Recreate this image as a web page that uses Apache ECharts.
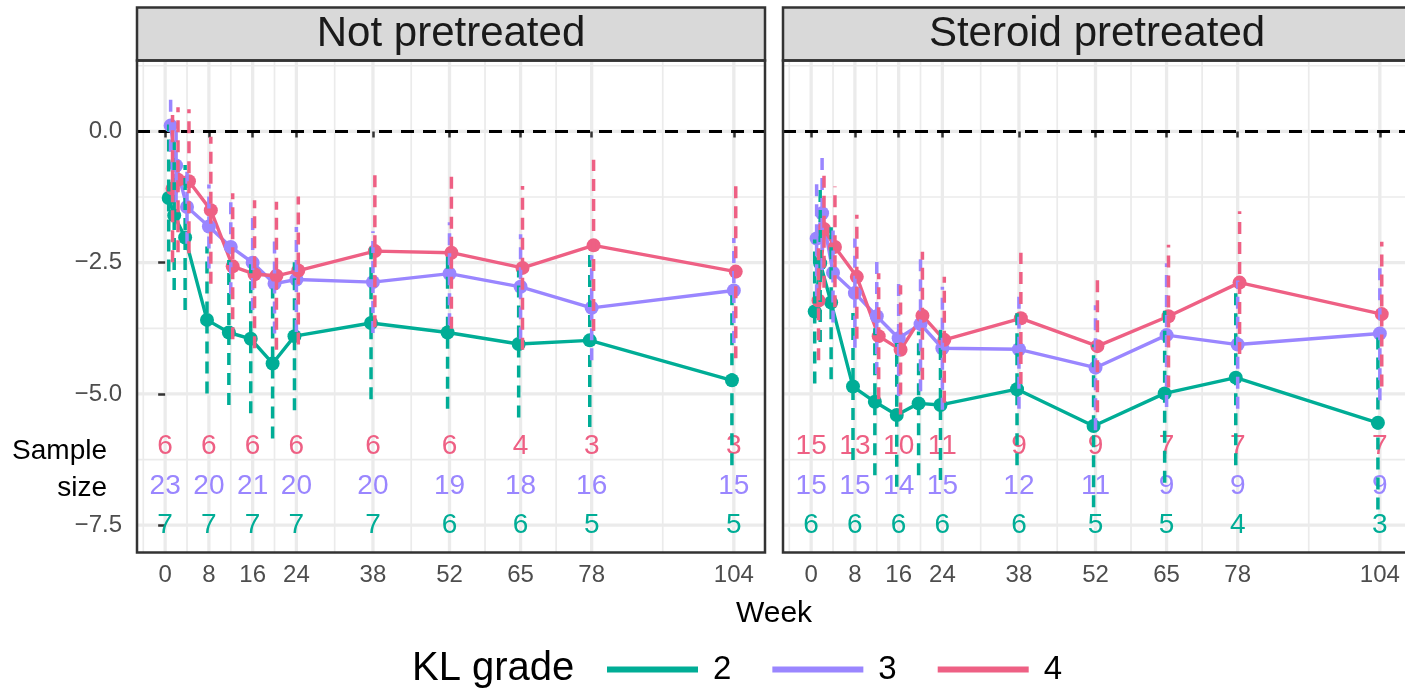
<!DOCTYPE html>
<html><head><meta charset="utf-8">
<script src="https://cdn.jsdelivr.net/npm/echarts@6/dist/echarts.min.js"></script>
<style>html,body{margin:0;padding:0;background:#fff}#c{width:1405px;height:691px}</style>
</head><body><div id="c"></div>
<script>
const FONT = '"Liberation Sans", Arial, Helvetica, sans-serif';

// ---------------- data ----------------
const panelNames = ['Not pretreated', 'Steroid pretreated'];
const groupNames = ['2', '3', '4'];
const weeks = [1, 2, 4, 8, 12, 16, 20, 24, 38, 52, 65, 78, 104];
const weekTicks = [0, 8, 16, 24, 38, 52, 65, 78, 104];
const weekMinor = [-4, 4, 12, 20, 31, 45, 58.5, 71.5, 91];
const yTicks = [-7.5, -5, -2.5, 0];
const yMinor = [-6.25, -3.75, -1.25, 1.25];

// Not pretreated
const np2Mean = [-1.27, -1.60, -2.02, -3.59, -3.83, -3.95, -4.42, -3.90, -3.65, -3.83, -4.05, -3.98, -4.74];
const np2Lo   = [-2.67, -3.02, -3.40, -4.99, -5.21, -5.37, -5.85, -5.31, -5.10, -5.28, -5.45, -5.63, -6.36];
const np2Hi   = [ 0.13, -0.18, -0.64, -2.19, -2.45, -2.53, -2.99, -2.49, -2.20, -2.38, -2.65, -2.33, -3.12];
const np3Mean = [ 0.11, -0.65, -1.44, -1.81, -2.20, -2.50, -2.90, -2.82, -2.87, -2.71, -2.96, -3.36, -3.03];
const np3Lo   = [-0.39, -1.35, -2.14, -2.61, -3.10, -3.40, -3.85, -3.82, -3.84, -3.69, -3.96, -4.36, -4.03];
const np3Hi   = [ 0.61,  0.05, -0.74, -1.01, -1.30, -1.60, -1.95, -1.82, -1.90, -1.73, -1.96, -2.36, -2.03];
const np4Mean = [-1.09, -0.92, -0.95, -1.50, -2.57, -2.72, -2.75, -2.65, -2.28, -2.31, -2.60, -2.17, -2.67];
const np4Lo   = [-2.49, -2.30, -2.32, -2.90, -3.96, -4.13, -4.16, -4.06, -3.73, -3.76, -4.16, -3.80, -4.32];
const np4Hi   = [ 0.31,  0.46,  0.42, -0.10, -1.18, -1.31, -1.34, -1.24, -0.83, -0.86, -1.04, -0.54, -1.02];

// Steroid pretreated
const sp2Mean = [-3.43, -2.51, -3.26, -4.86, -5.15, -5.40, -5.18, -5.21, -4.91, -5.61, -4.99, -4.69, -5.55];
const sp2Lo   = [-4.80, -4.01, -4.72, -6.26, -6.55, -6.77, -6.55, -6.64, -6.36, -7.16, -6.69, -6.36, -7.20];
const sp2Hi   = [-2.06, -1.01, -1.80, -3.46, -3.75, -4.03, -3.81, -3.78, -3.46, -4.06, -3.29, -3.02, -3.90];
const sp3Mean = [-2.04, -1.56, -2.69, -3.08, -3.52, -3.94, -3.67, -4.13, -4.15, -4.50, -3.88, -4.06, -3.85];
const sp3Lo   = [-3.14, -2.64, -3.64, -4.12, -4.62, -5.04, -4.95, -5.30, -5.28, -5.69, -5.25, -5.28, -5.12];
const sp3Hi   = [-0.94, -0.48, -1.74, -2.04, -2.42, -2.84, -2.39, -2.96, -3.02, -3.31, -2.51, -2.84, -2.58];
const sp4Mean = [-3.22, -1.86, -2.20, -2.77, -3.90, -4.16, -3.51, -3.97, -3.56, -4.09, -3.52, -2.88, -3.48];
const sp4Lo   = [-4.36, -2.98, -3.35, -3.95, -5.10, -5.39, -4.73, -5.17, -4.81, -5.35, -4.88, -4.24, -4.86];
const sp4Hi   = [-2.08, -0.74, -1.05, -1.59, -2.70, -2.93, -2.29, -2.77, -2.31, -2.83, -2.16, -1.52, -2.10];

// sample sizes at weekTicks
const npN2 = [7, 7, 7, 7, 7, 6, 6, 5, 5];
const npN3 = [23, 20, 21, 20, 20, 19, 18, 16, 15];
const npN4 = [6, 6, 6, 6, 6, 6, 4, 3, 3];
const spN2 = [6, 6, 6, 6, 6, 5, 5, 4, 3];
const spN3 = [15, 15, 14, 15, 12, 11, 9, 9, 9];
const spN4 = [15, 13, 10, 11, 9, 9, 7, 7, 7];

// ---------------- styling / layout ----------------
const COLORS = {'2': '#00AD96', '3': '#9A86FF', '4': '#EE6084'};
const DODGE = {'2': -0.35, '3': 0, '4': 0.35};
const LABEL_ROW = {'2': -7.5, '3': -6.75, '4': -6.0};
const X_MIN = -5.15, X_MAX = 109.7, Y_MIN = -8.02, Y_MAX = 1.35;
const PANEL = [{left: 137}, {left: 783}];
const P_TOP = 60.5, P_H = 492, P_W = 628;

const panelData = [
  {'2': [np2Mean, np2Lo, np2Hi, npN2], '3': [np3Mean, np3Lo, np3Hi, npN3], '4': [np4Mean, np4Lo, np4Hi, npN4]},
  {'2': [sp2Mean, sp2Lo, sp2Hi, spN2], '3': [sp3Mean, sp3Lo, sp3Hi, spN3], '4': [sp4Mean, sp4Lo, sp4Hi, spN4]}
];

const gridData = [];
weekTicks.forEach(v => gridData.push([v, 0, 1]));
weekMinor.forEach(v => gridData.push([v, 0, 0]));
yTicks.forEach(v => gridData.push([v, 1, 1]));
yMinor.forEach(v => gridData.push([v, 1, 0]));

function gridRender(params, api) {
  const cs = params.coordSys;
  const v = api.value(0), orient = api.value(1), major = api.value(2);
  let shape;
  if (orient === 0) {
    const p = api.coord([v, 0]);
    shape = {x1: p[0], y1: cs.y, x2: p[0], y2: cs.y + cs.height};
  } else {
    const p = api.coord([0, v]);
    shape = {x1: cs.x, y1: p[1], x2: cs.x + cs.width, y2: p[1]};
  }
  return {type: 'line', shape, silent: true,
    style: {stroke: '#EBEBEB', lineWidth: major ? 3.3 : 1.7}};
}
function refRender(params, api) {
  const cs = params.coordSys;
  const p = api.coord([0, api.value(0)]);
  return {type: 'line', silent: true, shape: {x1: cs.x, y1: p[1], x2: cs.x + cs.width, y2: p[1]},
    style: {stroke: '#000', lineWidth: 3, lineDash: [13, 9]}};
}
function ebRender(params, api) {
  const x = api.value(0);
  const a = api.coord([x, api.value(1)]), b = api.coord([x, api.value(2)]);
  return {type: 'line', shape: {x1: a[0], y1: a[1], x2: b[0], y2: b[1]},
    style: {stroke: api.visual('color'), lineWidth: 3.5, lineDash: [12, 8]}};
}
function labRender(params, api) {
  const p = api.coord([api.value(0), api.value(1)]);
  return {type: 'text', x: p[0], y: p[1], silent: true,
    style: {text: String(api.value(2)), fill: api.visual('color'), font: '28px ' + FONT,
      align: 'center', verticalAlign: 'middle'}};
}

const grids = [], xAxes = [], yAxes = [], series = [];
PANEL.forEach((pp, k) => {
  grids.push({left: pp.left, top: P_TOP, width: P_W, height: P_H, show: false,
    containLabel: false, outerBoundsMode: 'none'});
  xAxes.push({gridIndex: k, type: 'value', min: X_MIN, max: X_MAX,
    splitLine: {show: false}, axisLine: {show: false},
    axisTick: {show: true, customValues: weekTicks, length: 6, lineStyle: {color: '#333', width: 2.5}},
    axisLabel: {customValues: weekTicks, color: '#4D4D4D', fontSize: 24, fontFamily: FONT, margin: 11}});
  yAxes.push({gridIndex: k, type: 'value', min: Y_MIN, max: Y_MAX,
    splitLine: {show: false}, axisLine: {show: false},
    axisTick: {show: k === 0, customValues: yTicks, length: 7, lineStyle: {color: '#333', width: 2.5}},
    axisLabel: {show: k === 0, customValues: yTicks, color: '#4D4D4D', fontSize: 24, fontFamily: FONT, margin: 15,
      formatter: v => (v < 0 ? '\u2212' + Math.abs(v).toFixed(1) : v.toFixed(1))}});

  series.push({type: 'custom', xAxisIndex: k, yAxisIndex: k, z: 0, silent: true,
    renderItem: gridRender, data: gridData, encode: {x: 0, y: 1}});
  series.push({type: 'custom', xAxisIndex: k, yAxisIndex: k, z: 1, silent: true,
    renderItem: refRender, data: [[0]], encode: {y: 0}});

  groupNames.forEach(g => {
    const [mean, lo, hi, ns] = panelData[k][g];
    series.push({name: 'n' + g, type: 'custom', xAxisIndex: k, yAxisIndex: k, z: 2,
      itemStyle: {color: COLORS[g]}, renderItem: labRender,
      data: weekTicks.map((w, i) => [w, LABEL_ROW[g], ns[i]]), encode: {x: 0, y: 1}});
  });
  groupNames.forEach(g => {
    const [mean] = panelData[k][g];
    series.push({name: g, type: 'line', xAxisIndex: k, yAxisIndex: k, z: 3,
      data: weeks.map((w, i) => [w + DODGE[g], mean[i]]),
      symbol: 'circle', symbolSize: 14, showSymbol: true,
      itemStyle: {color: COLORS[g]}, lineStyle: {color: COLORS[g], width: 3.4}});
  });
  groupNames.forEach(g => {
    const [mean, lo, hi] = panelData[k][g];
    series.push({name: 'ci' + g, type: 'custom', xAxisIndex: k, yAxisIndex: k, z: 4,
      itemStyle: {color: COLORS[g]}, renderItem: ebRender,
      data: weeks.map((w, i) => [w + DODGE[g], lo[i], hi[i]]), encode: {x: 0, y: [1, 2]}});
  });
});

const graphics = [];
PANEL.forEach((pp, k) => {
  graphics.push({type: 'rect', z: 100, shape: {x: pp.left, y: 7.5, width: P_W, height: P_TOP - 7.5},
    style: {fill: '#D9D9D9', stroke: '#333', lineWidth: 2.5}});
  graphics.push({type: 'text', z: 101, x: pp.left + P_W / 2, y: 34,
    style: {text: panelNames[k], font: '42px ' + FONT, fill: '#1A1A1A', align: 'center', verticalAlign: 'middle'}});
  graphics.push({type: 'rect', z: 100, shape: {x: pp.left, y: P_TOP, width: P_W, height: P_H},
    style: {fill: 'none', stroke: '#333', lineWidth: 2.5}});
});
graphics.push({type: 'text', x: 107, y: 451, style: {text: 'Sample', font: '28px ' + FONT, fill: '#000', align: 'right', verticalAlign: 'middle'}});
graphics.push({type: 'text', x: 107, y: 488, style: {text: 'size', font: '28px ' + FONT, fill: '#000', align: 'right', verticalAlign: 'middle'}});
graphics.push({type: 'text', x: 774, y: 614, style: {text: 'Week', font: '30px ' + FONT, fill: '#000', align: 'center', verticalAlign: 'middle'}});
graphics.push({type: 'text', x: 412, y: 669, style: {text: 'KL grade', font: '40px ' + FONT, fill: '#000', align: 'left', verticalAlign: 'middle'}});

const chart = echarts.init(document.getElementById('c'), null, {renderer: 'canvas'});
chart.setOption({
  animation: false,
  backgroundColor: '#fff',
  grid: grids, xAxis: xAxes, yAxis: yAxes, series,
  graphic: graphics,
  legend: {data: groupNames, left: 607, top: 653, padding: 0, icon: 'rect', itemWidth: 91, itemHeight: 6, itemGap: 41,
    selectedMode: false,
    textStyle: {fontSize: 33, color: '#000', fontFamily: FONT, padding: [0, 0, 0, 10]}}
});
</script></body></html>
